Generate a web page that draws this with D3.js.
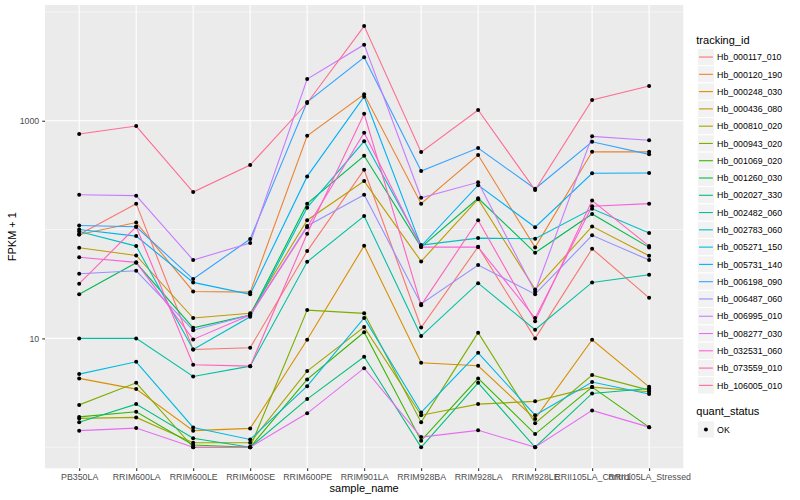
<!DOCTYPE html>
<html>
<head>
<meta charset="utf-8">
<script src="https://cdn.jsdelivr.net/npm/d3@7"></script>
<style>
  body { margin: 0; background: #fff; }
  text { font-family: "Liberation Sans", Arial, Helvetica, sans-serif; }
</style>
</head>
<body>
<svg width="800" height="500"></svg>
<script>
// samples on the x axis
const samples = ['PB350LA', 'RRIM600LA', 'RRIM600LE', 'RRIM600SE', 'RRIM600PE', 'RRIM901LA',
                 'RRIM928BA', 'RRIM928LA', 'RRIM928LE', 'RRII105LA_Control', 'RRII105LA_Stressed'];

const trackingIds = ['Hb_000117_010', 'Hb_000120_190', 'Hb_000248_030', 'Hb_000436_080', 'Hb_000810_020',
                     'Hb_000943_020', 'Hb_001069_020', 'Hb_001260_030', 'Hb_002027_330', 'Hb_002482_060',
                     'Hb_002783_060', 'Hb_005271_150', 'Hb_005731_140', 'Hb_006198_090', 'Hb_006487_060',
                     'Hb_006995_010', 'Hb_008277_030', 'Hb_032531_060', 'Hb_073559_010', 'Hb_106005_010'];

// FPKM per gene, one value per sample (same order as samples)
const fpkm = [
  [89.3, 172, 6.92, 7.2, 62.4, 354, 11.6, 68.5, 9.0, 65.6, 22.6],
  [89, 115, 26, 25.6, 727, 1748, 172, 483, 67.6, 518, 517],
  [3.29, 2.42, 0.42, 0.49, 8.71, 70.0, 4.97, 4.6, 0.82, 8.71, 2.59],
  [67, 56.9, 14.4, 16, 121, 278, 50, 189, 27.2, 106, 56.4],
  [0.84, 0.88, 0.10, 0.10, 4.01, 11.7, 0.97, 1.49, 1.64, 2.57, 2.23],
  [1.45, 2.91, 0, 0, 17.2, 16.0, 0.70, 10.3, 0.66, 3.6, 2.35],
  [0.9, 1.12, 0.05, 0, 3.2, 10.4, 0.15, 3.29, 0.32, 2.57, 0.53],
  [24.4, 48.5, 11.5, 15.4, 172, 476, 68, 193, 60.2, 138, 67.6],
  [0.7, 1.49, 0.21, 0, 1.77, 5.78, 0, 2.91, 0, 2.12, 2.47],
  [9, 9, 3.47, 4.56, 49.6, 132, 9.5, 31.2, 11, 31.7, 37.4],
  [94.9, 69.5, 6.92, 14.8, 158, 646, 71.1, 82.5, 81.3, 154, 91.9],
  [3.7, 5.1, 0.52, 0.18, 2.64, 14.4, 1.09, 6.37, 0.97, 2.97, 2.08],
  [99, 86.1, 31.7, 24.4, 307, 1661, 69.5, 255, 104, 328, 330],
  [108, 105, 34.1, 80.8, 1485, 3827, 344, 560, 236, 640, 490],
  [38.3, 40.8, 10.9, 15.4, 107, 208, 19.7, 46.2, 24.5, 87.5, 51.5],
  [208, 204, 51.5, 74.2, 2416, 4999, 195, 271, 25.8, 718, 660],
  [0.42, 0.5, 0, 0, 1.05, 4.33, 0.24, 0.43, 0, 1.18, 0.53],
  [54.6, 49, 8.79, 15.4, 104, 775, 68, 68, 14.4, 163, 172],
  [30.8, 105, 4.72, 4.56, 90.5, 1158, 19.2, 121, 13.4, 184, 69.5],
  [754, 893, 220, 391, 1454, 7412, 514, 1253, 230, 1548, 2082]
];

const yBreaks = [10, 1000];
const yMinor = [1, 100, 10000];
const quantStatus = ['OK'];

// ggplot default hue palette for 20 levels
const palette = ['#F8766D', '#EA8331', '#D89000', '#C09B00', '#A3A500', '#7CAE00', '#39B600', '#00BB4E',
                 '#00BF7D', '#00C1A3', '#00BFC4', '#00BAE0', '#00B0F6', '#35A2FF', '#9590FF', '#C77CFF',
                 '#E76BF3', '#FA62DB', '#FF62BC', '#FF6C91'];

let svg = d3.select('svg');
let panel = {left: 45, right: 683.3, top: 5, bottom: 468.3};

let scaleX = d3.scalePoint().domain(samples).range([panel.left, panel.right]).padding(0.6);

// log axis, 5% expansion in log space like ggplot
let logExt = d3.extent(fpkm.flat(), v => Math.log10(v + 1));
let pad = (logExt[1] - logExt[0]) * 0.05;
let scaleY = d3.scaleLog()
    .domain([Math.pow(10, logExt[0] - pad), Math.pow(10, logExt[1] + pad)])
    .range([panel.bottom, panel.top]);

let color = d3.scaleOrdinal().domain(trackingIds).range(palette);

// panel background
svg.append('rect')
    .attr('x', panel.left).attr('y', panel.top)
    .attr('width', panel.right - panel.left).attr('height', panel.bottom - panel.top)
    .attr('fill', '#EBEBEB');

let grid = svg.append('g');
grid.selectAll('.minor').data(yMinor).enter().append('line')
    .attr('x1', panel.left).attr('x2', panel.right)
    .attr('y1', d => scaleY(d)).attr('y2', d => scaleY(d))
    .attr('stroke', '#fff').attr('stroke-width', 0.55);
grid.selectAll('.major').data(yBreaks).enter().append('line')
    .attr('x1', panel.left).attr('x2', panel.right)
    .attr('y1', d => scaleY(d)).attr('y2', d => scaleY(d))
    .attr('stroke', '#fff').attr('stroke-width', 1.1);
grid.selectAll('.vmajor').data(samples).enter().append('line')
    .attr('x1', d => scaleX(d)).attr('x2', d => scaleX(d))
    .attr('y1', panel.top).attr('y2', panel.bottom)
    .attr('stroke', '#fff').attr('stroke-width', 1.1);

// lines
let line = d3.line()
    .x((v, i) => scaleX(samples[i]))
    .y(v => scaleY(v + 1));

svg.append('g').selectAll('path')
    .data(fpkm)
    .enter()
    .append('path')
    .attr('d', d => line(d))
    .attr('fill', 'none')
    .attr('stroke', (d, i) => color(trackingIds[i]))
    .attr('stroke-width', 1.1);

// points
let pts = [];
fpkm.forEach(function(row) {
    row.forEach((v, i) => pts.push({sample: samples[i], value: v}));
});
svg.append('g').selectAll('circle')
    .data(pts)
    .enter()
    .append('circle')
    .attr('cx', d => scaleX(d.sample))
    .attr('cy', d => scaleY(d.value + 1))
    .attr('r', 2)
    .attr('fill', 'black');

// axes
let xAxis = d3.axisBottom(scaleX).tickSize(2.75).tickPadding(2.5);
let gx = svg.append('g').attr('transform', `translate(0,${panel.bottom})`).call(xAxis);
let yAxis = d3.axisLeft(scaleY).tickValues(yBreaks).tickFormat(d3.format('d')).tickSize(2.75).tickPadding(3);
let gy = svg.append('g').attr('transform', `translate(${panel.left},0)`).call(yAxis);
[gx, gy].forEach(function(g) {
    g.select('.domain').remove();
    g.selectAll('.tick line').attr('stroke', '#333333').attr('stroke-width', 1.1);
    g.selectAll('.tick text').attr('fill', '#4D4D4D').attr('font-size', '8.8px')
        .attr('font-family', '"Liberation Sans", Arial, Helvetica, sans-serif');
});

svg.append('text')
    .attr('x', (panel.left + panel.right) / 2).attr('y', 492)
    .attr('text-anchor', 'middle').attr('font-size', '11px').text('sample_name');
svg.append('text')
    .attr('transform', `translate(16,${(panel.top + panel.bottom) / 2}) rotate(-90)`)
    .attr('text-anchor', 'middle').attr('font-size', '11px').text('FPKM + 1');

// legend: tracking_id
let keySize = 17.28;
let leg = svg.append('g').attr('transform', 'translate(697.3,48.4)');
leg.append('text').attr('x', -1).attr('y', -4.5).attr('font-size', '11px').text('tracking_id');
let keys = leg.selectAll('.key').data(trackingIds).enter().append('g')
    .attr('transform', (d, i) => `translate(0,${i * keySize})`);
keys.append('rect').attr('width', keySize).attr('height', keySize)
    .attr('fill', '#F2F2F2').attr('stroke', '#fff').attr('stroke-width', 1);
keys.append('line').attr('x1', 1.7).attr('x2', keySize - 1.7)
    .attr('y1', keySize / 2).attr('y2', keySize / 2)
    .attr('stroke', d => color(d)).attr('stroke-width', 1.1);
keys.append('text').attr('x', keySize + 2.5).attr('y', keySize / 2 + 3.2)
    .attr('font-size', '8.8px').text(d => d);

// legend: quant_status
let leg2 = svg.append('g').attr('transform', 'translate(697.3,420.8)');
leg2.append('text').attr('x', -1).attr('y', -5.5).attr('font-size', '11px').text('quant_status');
let k2 = leg2.selectAll('.key').data(quantStatus).enter().append('g');
k2.append('rect').attr('width', keySize).attr('height', keySize)
    .attr('fill', '#F2F2F2').attr('stroke', '#fff').attr('stroke-width', 1);
k2.append('circle').attr('cx', keySize / 2).attr('cy', keySize / 2).attr('r', 2).attr('fill', 'black');
k2.append('text').attr('x', keySize + 2.5).attr('y', keySize / 2 + 3.2)
    .attr('font-size', '8.8px').text(d => d);
</script>
</body>
</html>
